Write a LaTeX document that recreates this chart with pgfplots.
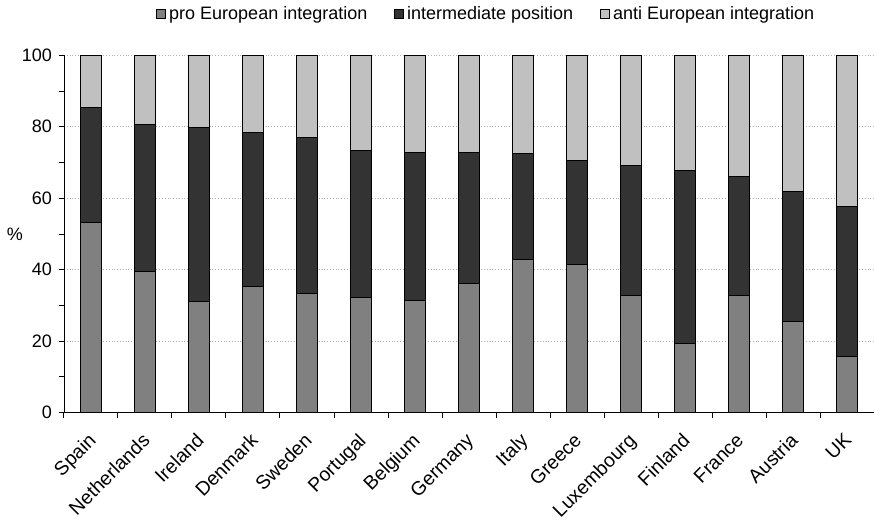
\documentclass[border=0pt]{standalone}
\usepackage{pgfplots}
\pgfplotsset{compat=1.18}
\usepackage{fontspec}
\setmainfont{Liberation Sans}

\definecolor{pro}{RGB}{128,128,128}
\definecolor{mid}{RGB}{51,51,51}
\definecolor{anti}{RGB}{192,192,192}

\begin{document}
\begin{tikzpicture}
\begin{axis}[
    scale only axis,
    width=405pt, height=178.7pt,
    font=\fontsize{9}{11}\selectfont,
    /pgf/number format/assume math mode=true,
    ybar stacked,
    bar width=10.65pt,
    xmin=-0.5, xmax=14.5,
    ymin=0, ymax=100,
    axis lines=left,
    axis line style={black, -},
    xtick={0,...,14},
    xticklabels={Spain,Netherlands,Ireland,Denmark,Sweden,Portugal,Belgium,Germany,Italy,Greece,Luxembourg,Finland,France,Austria,UK},
    xticklabel style={font=\fontsize{9.7}{12}\selectfont, yshift=-5.5pt, xshift=-2pt, rotate=45, anchor=north east, inner sep=1pt},
    major x tick style={draw=none},
    minor xtick={-0.5,0.5,...,14.5},
    minor x tick style={black},
    ytick={0,20,...,100},
    minor ytick={10,30,...,90},
    tick align=outside,
    major tick length=2.5pt,
    minor tick length=2.5pt,
    tick style={black, line width=0.5pt},
    ymajorgrids,
    grid style={gray!60, densely dotted, line width=0.5pt},
    ylabel={\%},
    ylabel style={rotate=-90, anchor=center, at={(axis description cs:-0.0605,0.5)}},
    legend columns=3,
    legend style={draw=none, at={(axis description cs:0.522,1.115)}, anchor=center,
        /tikz/every even column/.append style={column sep=12pt},
        font=\fontsize{9}{11}\selectfont,
        nodes={inner xsep=1.5pt}},
    legend image code/.code={\draw[#1, draw=black, line width=0.4pt] (0pt,-2.2pt) rectangle (4.5pt,2.3pt);},
]
\addplot[fill=pro, draw=black, line width=0.5pt] coordinates {
(0,53.2) (1,39.5) (2,31.2) (3,35.2) (4,33.4) (5,32.2) (6,31.4) (7,36.2)
(8,42.8) (9,41.6) (10,32.9) (11,19.3) (12,32.7) (13,25.5) (14,15.8)};
\addplot[fill=mid, draw=black, line width=0.5pt] coordinates {
(0,32.2) (1,41.1) (2,48.5) (3,43.1) (4,43.7) (5,41.1) (6,41.5) (7,36.7)
(8,29.6) (9,29.0) (10,36.2) (11,48.4) (12,33.5) (13,36.3) (14,41.8)};
\addplot[fill=anti, draw=black, line width=0.5pt] coordinates {
(0,14.6) (1,19.4) (2,20.3) (3,21.7) (4,22.9) (5,26.7) (6,27.1) (7,27.1)
(8,27.6) (9,29.4) (10,30.9) (11,32.3) (12,33.8) (13,38.2) (14,42.4)};
\legend{pro European integration, intermediate position, anti European integration}
\end{axis}
\pgfresetboundingbox
\path (-32pt,-54.15pt) rectangle (405pt,206.35pt);
\end{tikzpicture}
\end{document}
